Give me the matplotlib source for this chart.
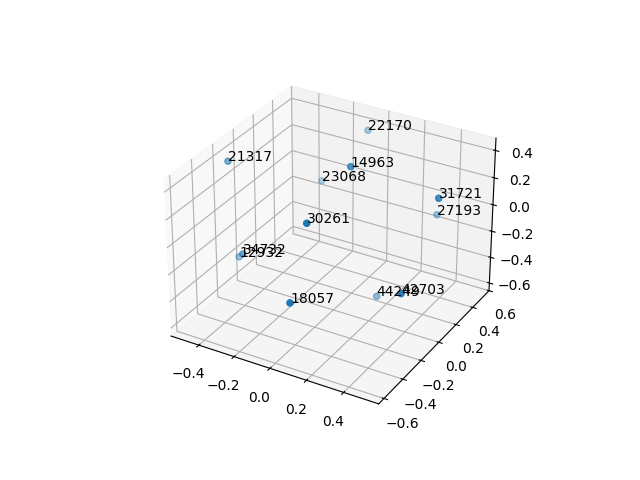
import matplotlib
matplotlib.use("Agg")
import matplotlib.pyplot as plt

labels = ["21317", "23068", "14963", "30261", "12932", "34732",
          "22170", "31721", "27193", "18057", "44249", "42703"]
xs = [-0.533, -0.253, 0.058, 0.055, -0.441, -0.356, -0.085, 0.486, 0.337, 0.078, 0.202, 0.489]
ys = [-0.104, 0.354, 0.071, -0.374, -0.175, -0.283, 0.537, 0.166, 0.478, -0.588, 0.081, -0.238]
zs = [0.320, 0.016, 0.392, 0.244, -0.317, -0.195, 0.352, 0.265, -0.096, -0.186, -0.524, -0.177]

fig = plt.figure()
ax = fig.add_subplot(projection='3d')
ax.scatter(xs, ys, zs)
for x, y, z, label in zip(xs, ys, zs, labels):
    ax.text(x, y, z, label)

ax.set_xlim(-0.56, 0.585)
ax.set_ylim(-0.655, 0.60)
ax.set_zlim(-0.66, 0.49)

fig.savefig("out.png")
